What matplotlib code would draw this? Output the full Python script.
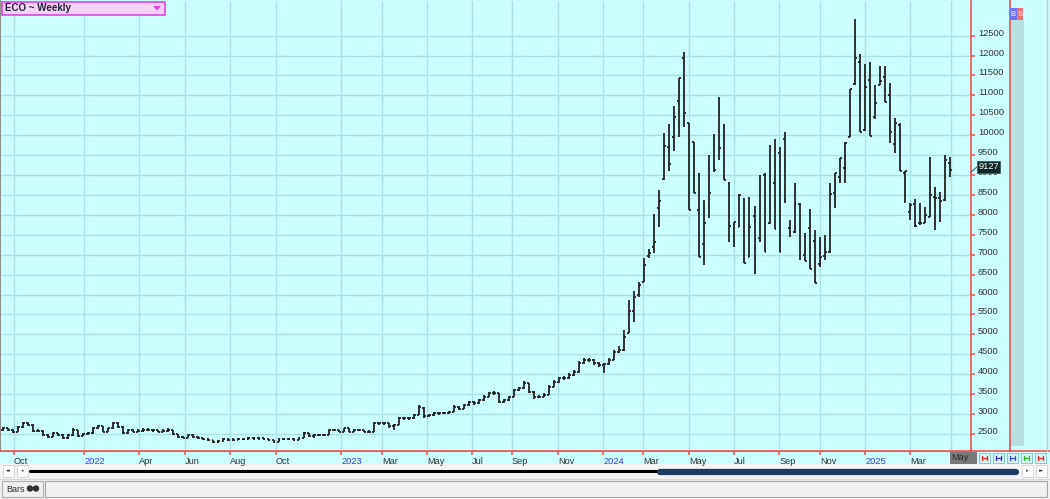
import matplotlib
matplotlib.use("Agg")
import matplotlib.pyplot as plt
from matplotlib.collections import LineCollection
from matplotlib.patches import Rectangle, Polygon, Circle

# ---------------- data ----------------
title = "ECO ~ Weekly"

opens = [
    2600, 2640, 2600, 2560, 2680, 2770, 2720, 2580, 2580, 2470,
    2430, 2515, 2470, 2390, 2475, 2600, 2450, 2500, 2520, 2640,
    2690, 2560, 2640, 2770, 2680, 2520, 2600, 2560, 2580, 2600,
    2600, 2600, 2560, 2580, 2600, 2490, 2430, 2410, 2475, 2430,
    2390, 2370, 2350, 2300, 2320, 2370, 2350, 2350, 2370, 2370,
    2390, 2390, 2390, 2370, 2350, 2310, 2370, 2370, 2370, 2350,
    2400, 2517, 2440, 2475, 2475, 2475, 2600, 2600, 2560, 2640,
    2560, 2600, 2600, 2560, 2560, 2770, 2770, 2770, 2690, 2730,
    2890, 2890, 2890, 2980, 3150, 2940, 2980, 3020, 3020, 3020,
    3060, 3190, 3140, 3230, 3310, 3270, 3350, 3440, 3520, 3520,
    3310, 3350, 3440, 3600, 3650, 3770, 3560, 3440, 3440, 3480,
    3690, 3810, 3900, 3900, 3980, 4060, 4270, 4360, 4360, 4270,
    4240, 4250, 4360, 4570, 4610, 5040, 5590,
    6000, 6307, 6968, 7202, 8164, 8901, 9712, 9947, 10860, 11946,
    10298, 9838, 8122, 7260, 8189, 9311, 9922, 10215, 8792, 7478,
    7700, 8390, 6935, 7980, 7427, 9000, 7788, 8800, 9561, 9900,
    7660, 7578, 8272, 6992, 7679, 7352, 6766, 6967, 7076, 8557,
    8958, 9184, 9963, 11285, 11846, 10130, 11385, 10465, 11260, 11469,
    11009, 9779, 10256, 9042, 8064, 8265, 7808, 7787, 7955, 8441,
    8416, 8373, 9293,
]
highs = [
    2680, 2660, 2620, 2700, 2800, 2790, 2740, 2620, 2590, 2500,
    2540, 2530, 2490, 2500, 2640, 2610, 2530, 2560, 2680, 2720,
    2700, 2660, 2810, 2790, 2690, 2630, 2620, 2620, 2640, 2640,
    2630, 2610, 2620, 2640, 2610, 2510, 2450, 2500, 2490, 2450,
    2410, 2390, 2360, 2350, 2400, 2390, 2390, 2400, 2410, 2420,
    2420, 2430, 2410, 2380, 2360, 2400, 2410, 2400, 2390, 2420,
    2560, 2530, 2500, 2510, 2500, 2620, 2630, 2610, 2660, 2650,
    2630, 2630, 2610, 2590, 2790, 2810, 2800, 2780, 2750, 2920,
    2930, 2920, 3000, 3220, 3170, 3010, 3060, 3050, 3060, 3080,
    3220, 3210, 3260, 3340, 3330, 3380, 3470, 3560, 3580, 3530,
    3370, 3460, 3620, 3680, 3840, 3790, 3580, 3480, 3520, 3720,
    3850, 3930, 3950, 4020, 4100, 4320, 4420, 4400, 4380, 4300,
    4280, 4400, 4620, 4720, 5100, 5860, 6100,
    6323, 6910, 7140, 8014, 8624, 10047, 10281, 10733, 11444, 12097,
    10298, 9838, 9042, 8373, 9503, 10022, 10967, 10281, 8833, 7829,
    8524, 8415, 8457, 8231, 9000, 9042, 9750, 9900, 9700, 10080,
    7871, 8791, 8289, 7536, 8139, 7620, 7436, 7494, 8791, 9059,
    9419, 9838, 11160, 12908, 12030, 11787, 11846, 11260, 11745, 11745,
    11302, 10440, 10315, 9109, 8290, 8391, 8307, 8206, 9461, 8708,
    8582, 9503, 9444,
]
lows = [
    2580, 2570, 2530, 2540, 2660, 2690, 2560, 2550, 2450, 2410,
    2420, 2450, 2370, 2380, 2460, 2430, 2440, 2480, 2510, 2620,
    2540, 2550, 2620, 2660, 2500, 2510, 2540, 2540, 2560, 2570,
    2560, 2540, 2540, 2560, 2470, 2410, 2390, 2400, 2410, 2370,
    2350, 2320, 2270, 2280, 2310, 2320, 2320, 2340, 2340, 2360,
    2350, 2360, 2340, 2320, 2270, 2300, 2340, 2340, 2320, 2340,
    2390, 2420, 2400, 2450, 2440, 2470, 2570, 2540, 2550, 2540,
    2550, 2570, 2540, 2530, 2550, 2730, 2720, 2660, 2610, 2720,
    2850, 2860, 2880, 2970, 2900, 2920, 2960, 2980, 2990, 3010,
    3050, 3110, 3120, 3210, 3240, 3250, 3340, 3420, 3480, 3270,
    3290, 3330, 3420, 3580, 3630, 3540, 3390, 3400, 3420, 3470,
    3680, 3790, 3860, 3880, 3960, 4040, 4250, 4300, 4240, 4190,
    4040, 4240, 4350, 4540, 4590, 5030, 5300,
    5950, 6307, 6910, 7034, 7687, 8875, 9110, 9612, 9963, 10198,
    8122, 8541, 6933, 6741, 7913, 9085, 9377, 8875, 7327, 7202,
    7687, 6783, 6933, 6515, 7327, 7059, 7771, 7645, 7059, 8289,
    7452, 7553, 6866, 6841, 6632, 6281, 6682, 6866, 7034, 8164,
    8808, 8808, 9947, 11260, 10089, 10114, 9980, 10398, 11260, 10825,
    9813, 9545, 9109, 8307, 7871, 7704, 7745, 7787, 7938, 7620,
    7829, 8357, 8942,
]
closes = [
    2640, 2600, 2560, 2680, 2770, 2725, 2580, 2580, 2475, 2430,
    2515, 2475, 2390, 2475, 2600, 2450, 2500, 2520, 2640, 2690,
    2560, 2640, 2770, 2680, 2520, 2600, 2560, 2580, 2600, 2600,
    2600, 2560, 2580, 2600, 2490, 2430, 2410, 2475, 2430, 2390,
    2370, 2350, 2300, 2320, 2370, 2350, 2350, 2370, 2370, 2390,
    2390, 2390, 2370, 2350, 2310, 2370, 2370, 2370, 2350, 2400,
    2517, 2440, 2475, 2475, 2475, 2600, 2600, 2560, 2640, 2560,
    2600, 2600, 2560, 2560, 2770, 2770, 2770, 2690, 2730, 2890,
    2890, 2890, 2980, 3190, 2940, 2980, 3020, 3020, 3020, 3060,
    3190, 3140, 3230, 3310, 3270, 3350, 3440, 3520, 3520, 3310,
    3350, 3440, 3600, 3650, 3770, 3560, 3440, 3440, 3480, 3690,
    3810, 3900, 3900, 3980, 4060, 4270, 4360, 4360, 4270, 4230,
    4250, 4360, 4570, 4610, 4940, 5590, 5950,
    6240, 6742, 7051, 7327, 8348, 9737, 9277, 10465, 11440, 10566,
    8122, 8541, 6933, 7788, 8557, 9126, 9687, 8875, 7721, 7829,
    8500, 6783, 7704, 6540, 7369, 7059, 8766, 7645, 7059, 8400,
    7660, 8272, 7059, 6841, 6632, 6281, 6950, 7076, 8515, 9059,
    9419, 9813, 11160, 11929, 10089, 11218, 9980, 10816, 11369, 10842,
    10089, 10298, 9109, 9109, 8248, 7720, 7808, 7997, 8499, 8432,
    8348, 9377, 9127,
]
last_price_label = "9127"

# date-axis labels and the (week-bar) index at which each one is placed
month_labels = ["Oct", "2022", "Apr", "Jun", "Aug", "Oct", "2023", "Mar", "May", "Jul",
                "Sep", "Nov", "2024", "Mar", "May", "Jul", "Sep", "Nov", "2025", "Mar", "May"]
month_tick_bars = [2.2, 16.2, 27.1, 36.3, 45.3, 54.4, 67.5, 75.6, 84.6, 93.6,
                   101.6, 110.8, 119.8, 127.8, 136.9, 145.9, 154.9, 163.1, 172.1, 181.1, 189.2]
y_ticks = list(range(2500, 13000, 500))

n = len(closes)
assert len(opens) == n and len(highs) == n and len(lows) == n

# ---------------- style ----------------
W, H = 1050, 499
CYAN = "#CCFFFF"
GRID = "#A8E2E2"
RED = "#F05050"
BAR = "#222222"
TXT = "#333333"
FONT = "Liberation Sans"

fig = plt.figure(figsize=(W / 100, H / 100), dpi=100)
fig.patch.set_facecolor("#F0F0F0")

# background / decoration axes in pixel coordinates
bg = fig.add_axes([0, 0, 1, 1], zorder=0)
bg.set_xlim(0, W)
bg.set_ylim(H, 0)
bg.axis("off")
bg.add_patch(Rectangle((0, 0), W, 464, facecolor=CYAN, edgecolor="none"))
bg.add_patch(Rectangle((1011, 20), 13, 426, facecolor="#B8E0E0", edgecolor="none"))
bg.plot([1010, 1010], [0, 451], color=RED, lw=1.2)
bg.plot([0, W], [451, 451], color=RED, lw=1.2)
bg.plot([1047, 1047], [0, 451], color="#C8C8C8", lw=1)

# scroll row
bg.add_patch(Rectangle((0, 464), W, 15, facecolor="#F4F4F4", edgecolor="none"))
bg.plot([30, 660], [471, 471], color="black", lw=2.2, solid_capstyle="round")
bg.plot([660, 1016], [471.5, 471.5], color="#1F3A5F", lw=4.5, solid_capstyle="round")
for x0, g in [(3, "◂◂"), (17, "◂"), (1022, "▸"), (1036, "▸▸")]:
    bg.add_patch(Rectangle((x0, 465), 11, 12, facecolor="white", edgecolor="#D0D0D0", lw=0.6))
    bg.text(x0 + 5.5, 471, g, fontsize=3.5, ha="center", va="center", color="#404040",
            family="DejaVu Sans")
# bottom status row
bg.plot([0, W], [479, 479], color="#D8D8D8", lw=0.8)
bg.add_patch(Rectangle((2, 481), 41, 16, facecolor="#F0F0F0", edgecolor="#B0B0B0", lw=0.8))
bg.text(6, 489, "Bars", fontsize=6.5, ha="left", va="center", color="#333333", family=FONT)
bg.add_patch(Circle((30, 488.5), 3.2, facecolor="#303030", edgecolor="none"))
bg.add_patch(Circle((36, 488.5), 3.2, facecolor="#303030", edgecolor="none"))
bg.add_patch(Rectangle((45, 481), 1002, 16, facecolor="#F0F0F0", edgecolor="#A8A8A8", lw=0.8))

# small tool buttons on the right of the date axis
btn_colors = ["#E03030", "#3030C0", "#3050E0", "#30B030", "#E03030"]
for i, c in enumerate(btn_colors):
    x0 = 979 + i * 14
    bg.add_patch(Rectangle((x0, 453), 11, 10, facecolor="#D8F4F4", edgecolor="#80C0C0", lw=0.6))
    bg.plot([x0 + 3, x0 + 8], [458, 458], color=c, lw=0.9)
    bg.plot([x0 + 3, x0 + 3], [456, 460], color=c, lw=0.9)
    bg.plot([x0 + 8, x0 + 8], [456, 460], color=c, lw=0.9)

# ---------------- main chart ----------------
x0px, step = 3.0, 5.01
ax = fig.add_axes([0, (H - 451) / H, 971 / W, 450 / H], zorder=1)
ax.set_facecolor(CYAN)
ax.set_xlim(-x0px / step, (971 - x0px) / step)
ymin = 2500 - (451 - 434) * 25.1
ymax = 2500 + (434 - 1) * 25.1
ax.set_ylim(ymin, ymax)

# grid
for tp in month_tick_bars:
    ax.axvline(tp, color=GRID, lw=1.0, zorder=0)
for yt in y_ticks:
    ax.axhline(yt, color=GRID, lw=1.0, zorder=0)

# OHLC bars
segs = []
for k in range(n):
    segs.append([(k, lows[k]), (k, highs[k])])
    segs.append([(k - 0.38, opens[k]), (k, opens[k])])
    segs.append([(k, closes[k]), (k + 0.38, closes[k])])
ax.add_collection(LineCollection(segs, colors=BAR, linewidths=1.3, zorder=3))

# axes styling
ax.spines["top"].set_visible(False)
ax.spines["left"].set_color("#909090")
ax.spines["left"].set_linewidth(1.5)
ax.spines["right"].set_color(RED)
ax.spines["right"].set_linewidth(1.2)
ax.spines["bottom"].set_color(RED)
ax.spines["bottom"].set_linewidth(1.2)

ax.yaxis.tick_right()
ax.set_yticks(y_ticks)
ax.set_yticklabels([str(v) for v in y_ticks])
ax.tick_params(axis="y", direction="out", length=3, width=1.1, color=RED,
               labelsize=6.7, labelcolor=TXT, pad=2)
for lbl in ax.get_yticklabels():
    lbl.set_family(FONT)
    lbl.set_va("baseline")

# the final month is drawn separately in a highlighted box
shown_labels = month_labels[:-1] + [""]
ax.set_xticks(month_tick_bars)
ax.set_xticklabels(shown_labels)
ax.tick_params(axis="x", direction="out", length=3, width=1.1, color=RED,
               labelsize=6.7, labelcolor=TXT, pad=1)
for lbl, txt in zip(ax.get_xticklabels(), shown_labels):
    lbl.set_family(FONT)
    lbl.set_ha("left")
    if txt.isdigit():
        lbl.set_color("#4040F0")

# ---------------- overlays ----------------
fg = fig.add_axes([0, 0, 1, 1], zorder=5)
fg.set_xlim(0, W)
fg.set_ylim(H, 0)
fg.axis("off")
fg.patch.set_alpha(0)

# title box
fg.add_patch(Rectangle((1.5, 1.5), 163, 13, facecolor="#F6D2F6", edgecolor="#E050E0", lw=1.3))
fg.text(5, 8.2, title, fontsize=7, fontweight="bold", color="#202040",
        ha="left", va="center", family=FONT)
fg.add_patch(Polygon([[153, 6], [161, 6], [157, 10.5]], closed=True,
                     facecolor="#E040E0", edgecolor="none"))

# B / S boxes
fg.add_patch(Rectangle((1010, 8), 6.5, 12, facecolor="#7070F0", edgecolor="none"))
fg.add_patch(Rectangle((1016.5, 8), 6.5, 12, facecolor="#F07070", edgecolor="none"))
fg.text(1013.3, 14.2, "B", fontsize=5.5, color="white", ha="center", va="center", family=FONT)
fg.text(1019.8, 14.2, "S", fontsize=5.5, color="white", ha="center", va="center", family=FONT)

# last price label
last_y = 434 - (closes[-1] - 2500) / 25.1
fg.plot([971, 977], [last_y + 2, last_y - 3], color="#406060", lw=0.8)
fg.add_patch(Rectangle((977, last_y - 9), 23, 12, facecolor="#0B2828", edgecolor="#406060", lw=0.6))
fg.text(988.5, last_y - 3, last_price_label, fontsize=6.7, color="white",
        ha="center", va="center", family=FONT)

# highlighted current month on date axis
fg.add_patch(Rectangle((950, 452), 27, 11.5, facecolor="#7A7A7A", edgecolor="none"))
fg.text(951.5, 458, month_labels[-1], fontsize=6.7, color="#303030", ha="left",
        va="center", family=FONT)

fig.savefig("out.png", dpi=100, facecolor=fig.get_facecolor())
